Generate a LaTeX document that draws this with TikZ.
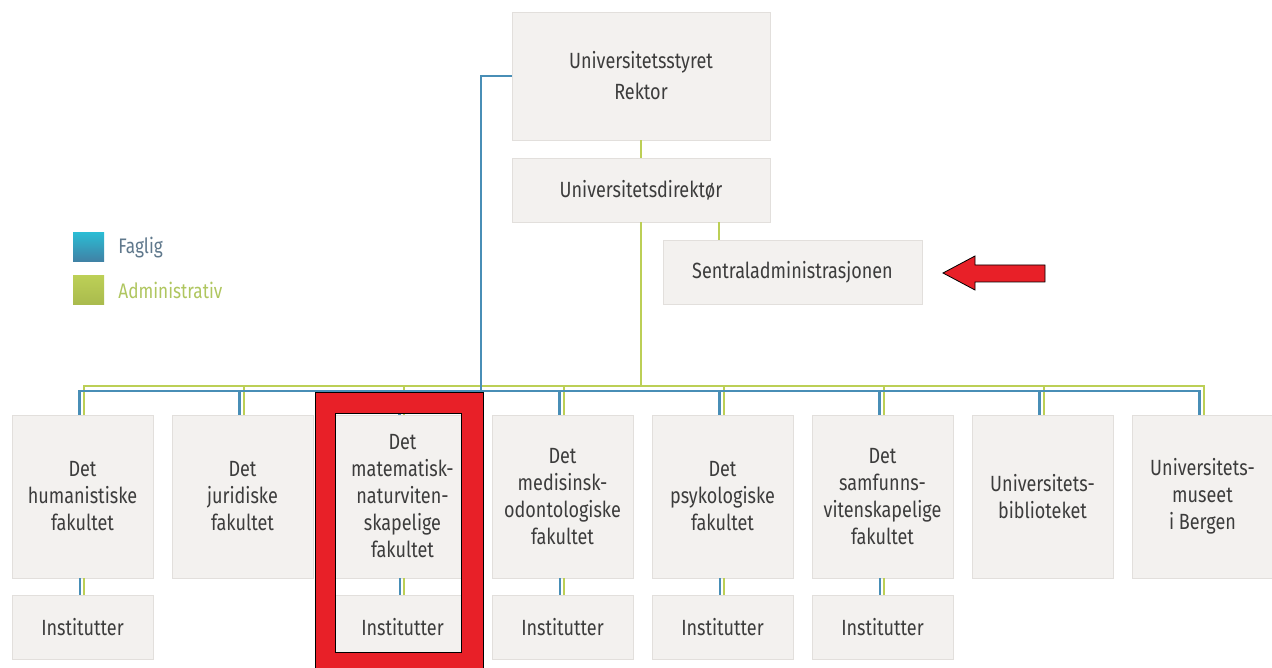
\documentclass[tikz,border=0pt]{standalone}
\usepackage{fontspec}
\setmainfont{Fira Sans}[FakeStretch=0.82]
\definecolor{boxfill}{RGB}{243,241,239}
\definecolor{boxline}{RGB}{226,223,220}
\definecolor{fag}{RGB}{72,142,182}
\definecolor{adm}{RGB}{188,207,86}
\definecolor{txt}{RGB}{60,60,60}
\definecolor{markred}{RGB}{232,32,40}
\definecolor{legfagtxt}{RGB}{95,120,140}
\definecolor{legadmtxt}{RGB}{175,198,95}
\tikzset{
  box/.style={draw=boxline, line width=0.8pt, fill=boxfill, inner sep=0pt, align=center,
    text=txt, font=\fontsize{22}{27}\selectfont},
  fac/.style={box, minimum width=141pt, minimum height=163pt},
  inst/.style={box, minimum width=141pt, minimum height=64pt},
  fagline/.style={draw=fag, line width=2.2pt},
  admline/.style={draw=adm, line width=2.2pt},
  legsq/.style={minimum width=31pt, minimum height=29pt, inner sep=0pt},
  legtxt/.style={anchor=west, font=\fontsize{21}{24}\selectfont, inner sep=0pt},
}
\begin{document}
\begin{tikzpicture}[x=1pt,y=-1pt]
\useasboundingbox (0,0) rectangle (1272,668);
\fill[white] (0,0) rectangle (1272,668);

% top boxes
\node[box, minimum width=258pt, minimum height=128pt, font=\fontsize{22}{31}\selectfont] (top) at (641,76) {Universitetsstyret\\Rektor};
\node[box, minimum width=258pt, minimum height=64pt] (dir) at (641,190) {Universitetsdirektør};
\node[box, minimum width=259pt, minimum height=64pt] (sen) at (792.5,272) {Sentraladministrasjonen};

% bus coordinates
\coordinate (gbus) at (641,386);
\coordinate (bbus) at (481,391);

% faculties
\node[fac] (f1) at (82.5,496.5) {Det\\humanistiske\\fakultet};
\node[fac] (f2) at (242.5,496.5) {Det\\juridiske\\fakultet};
\node[fac] (f3) at (402.5,496.5) {Det\\matematisk-\\naturviten-\\skapelige\\fakultet};
\node[fac] (f4) at (562.5,496.5) {Det\\medisinsk-\\odontologiske\\fakultet};
\node[fac] (f5) at (722.5,496.5) {Det\\psykologiske\\fakultet};
\node[fac] (f6) at (882.5,496.5) {Det\\samfunns-\\vitenskapelige\\fakultet};
\node[fac] (f7) at (1042.5,496.5) {Universitets-\\biblioteket};
\node[fac] (f8) at (1202.5,496.5) {Universitets-\\museet\\i Bergen};

% institutter
\foreach \i in {1,3,4,5,6} {
  \node[inst] (i\i) at ([yshift=-130.5pt]f\i.center) {Institutter};
}

% administrative lines
\draw[admline] (top.south) -- (dir.north);
\draw[admline] ([xshift=78pt]dir.south) -- ([xshift=78pt]dir.south |- sen.north);
\draw[admline] (dir.south) -- (gbus);
\draw[admline] ([xshift=1.5pt]f1.north) |- (gbus) -| ([xshift=1.5pt]f8.north);
\foreach \i in {2,...,7} {
  \draw[admline] ([xshift=1.5pt]f\i.north) -- ([xshift=1.5pt]f\i.north |- gbus);
}
% faglig lines
\draw[fagline] (top.west) -| (bbus);
\draw[fagline] ([xshift=-3pt]f1.north) |- (bbus) -| ([xshift=-3pt]f8.north);
\foreach \i in {2,...,7} {
  \draw[fagline] ([xshift=-3pt]f\i.north) -- ([xshift=-3pt]f\i.north |- bbus);
}
% faculty to institutter
\foreach \i in {1,3,4,5,6} {
  \draw[fagline, line width=2pt] ([xshift=-3pt]f\i.south) -- ([xshift=-3pt]i\i.north);
  \draw[admline, line width=2pt] ([xshift=1.5pt]f\i.south) -- ([xshift=1.5pt]i\i.north);
}

% legend
\node[legsq, top color=fag!60!cyan, bottom color=fag!90!black] (lfag) at (88.5,247.5) {};
\node[legsq, top color=adm, bottom color=adm!90!black] (ladm) at (88.5,290.5) {};
\node[legtxt, text=legfagtxt] (lfagt) at ([xshift=14pt]lfag.east) {Faglig};
\node[legtxt, text=legadmtxt] (ladmt) at ([xshift=14pt]ladm.east) {Administrativ};

% red highlight frame
\fill[markred, draw=black, line width=0.8pt, even odd rule]
  (315,392) rectangle (483,672) (335,413) rectangle (461,652);

% red arrow
\fill[markred, draw=black, line width=0.8pt]
  (943,273) -- (975,256) -- (975,265) -- (1045,265) -- (1045,282) -- (975,282) -- (975,290) -- cycle;
\end{tikzpicture}
\end{document}
